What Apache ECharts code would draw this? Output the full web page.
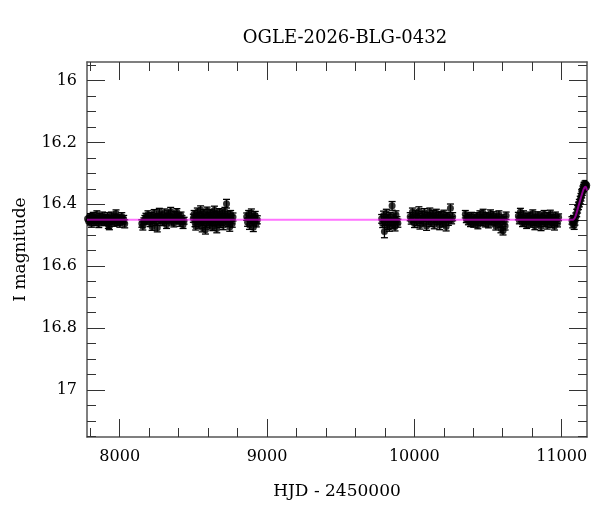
<!DOCTYPE html>
<html>
<head>
<meta charset="utf-8">
<script src="https://cdn.jsdelivr.net/npm/echarts@6/dist/echarts.min.js"></script>
<style>html,body{margin:0;padding:0;background:#fff}#c{width:600px;height:512px}</style>
</head>
<body>
<div id="c"></div>
<script>
// [HJD-2450000, I mag, error]
var season1 = [[7782,16.447,0.011],[7789,16.455,0.012],[7795,16.440,0.010],[7801,16.452,0.011],[7808,16.461,0.013],[7814,16.443,0.010],[7820,16.438,0.012],[7826,16.450,0.011],[7833,16.457,0.012],[7839,16.446,0.010],[7845,16.433,0.012],[7852,16.452,0.011],[7858,16.462,0.013],[7865,16.441,0.011],[7871,16.449,0.010],[7878,16.455,0.012],[7884,16.436,0.011],[7891,16.447,0.012],[7897,16.458,0.011],[7904,16.443,0.010],[7910,16.451,0.012],[7917,16.440,0.013],[7923,16.466,0.012],[7930,16.470,0.012],[7936,16.448,0.011],[7943,16.437,0.012],[7949,16.453,0.011],[7956,16.445,0.010],[7962,16.459,0.012],[7969,16.442,0.011],[7975,16.430,0.012],[7982,16.450,0.011],[7988,16.456,0.012],[7995,16.444,0.010],[8001,16.461,0.013],[8008,16.447,0.011],[8014,16.439,0.012],[8021,16.453,0.011],[8027,16.448,0.012],[8034,16.463,0.013]];
var season2 = [[8150,16.462,0.012],[8157,16.470,0.013],[8164,16.455,0.011],[8171,16.448,0.012],[8178,16.440,0.011],[8185,16.452,0.012],[8192,16.433,0.012],[8199,16.446,0.011],[8206,16.459,0.013],[8213,16.438,0.011],[8220,16.472,0.012],[8227,16.451,0.011],[8234,16.429,0.012],[8241,16.444,0.011],[8248,16.456,0.012],[8255,16.476,0.013],[8262,16.441,0.011],[8269,16.425,0.012],[8276,16.450,0.011],[8283,16.437,0.012],[8290,16.458,0.011],[8297,16.445,0.012],[8304,16.428,0.013],[8311,16.452,0.011],[8318,16.466,0.012],[8325,16.440,0.011],[8332,16.431,0.012],[8339,16.449,0.011],[8346,16.423,0.013],[8353,16.455,0.012],[8360,16.443,0.011],[8367,16.461,0.012],[8374,16.434,0.011],[8381,16.447,0.012],[8388,16.426,0.012],[8395,16.452,0.011],[8402,16.440,0.012],[8409,16.458,0.013],[8416,16.436,0.011],[8423,16.449,0.012],[8430,16.466,0.012],[8437,16.453,0.011]];
var season3 = [[8500,16.445,0.013],[8505,16.432,0.012],[8511,16.458,0.014],[8516,16.470,0.013],[8522,16.440,0.012],[8527,16.425,0.013],[8533,16.452,0.012],[8538,16.463,0.014],[8544,16.437,0.012],[8549,16.418,0.013],[8555,16.448,0.012],[8560,16.475,0.014],[8566,16.456,0.012],[8571,16.430,0.013],[8577,16.443,0.012],[8582,16.482,0.014],[8588,16.461,0.013],[8593,16.421,0.012],[8599,16.450,0.013],[8604,16.439,0.012],[8610,16.466,0.014],[8615,16.428,0.012],[8621,16.455,0.013],[8626,16.444,0.012],[8632,16.472,0.013],[8637,16.433,0.012],[8643,16.419,0.013],[8648,16.458,0.012],[8654,16.447,0.013],[8659,16.478,0.014],[8665,16.436,0.012],[8670,16.452,0.013],[8676,16.426,0.012],[8681,16.462,0.013],[8687,16.441,0.012],[8692,16.455,0.013],[8698,16.430,0.012],[8703,16.468,0.014],[8709,16.446,0.012],[8714,16.423,0.013],[8720,16.452,0.012],[8725,16.398,0.014],[8731,16.437,0.013],[8736,16.460,0.012],[8742,16.444,0.013],[8747,16.473,0.014],[8753,16.432,0.012],[8758,16.450,0.013],[8764,16.462,0.012],[8769,16.441,0.013]];
var season4 = [[8862,16.440,0.012],[8868,16.458,0.013],[8875,16.432,0.012],[8881,16.467,0.014],[8888,16.449,0.012],[8894,16.428,0.013],[8901,16.455,0.012],[8907,16.474,0.014],[8914,16.443,0.012],[8920,16.436,0.013],[8927,16.461,0.012],[8934,16.450,0.013]];
var season5 = [[9778,16.447,0.014],[9785,16.462,0.013],[9791,16.436,0.014],[9797,16.488,0.020],[9804,16.452,0.013],[9810,16.430,0.014],[9817,16.468,0.013],[9823,16.445,0.012],[9830,16.473,0.014],[9836,16.439,0.013],[9843,16.456,0.012],[9849,16.405,0.014],[9856,16.466,0.013],[9862,16.443,0.012],[9869,16.472,0.014],[9875,16.434,0.013],[9882,16.452,0.012],[9888,16.461,0.013]];
var season6 = [[9972,16.440,0.013],[9979,16.452,0.012],[9987,16.425,0.013],[9994,16.446,0.012],[10001,16.462,0.013],[10009,16.431,0.012],[10016,16.455,0.013],[10024,16.441,0.012],[10031,16.422,0.014],[10038,16.467,0.013],[10046,16.449,0.012],[10053,16.436,0.013],[10061,16.458,0.012],[10068,16.427,0.013],[10075,16.444,0.012],[10083,16.470,0.014],[10090,16.438,0.012],[10098,16.451,0.013],[10105,16.424,0.012],[10112,16.459,0.013],[10120,16.442,0.012],[10127,16.433,0.013],[10135,16.465,0.014],[10142,16.447,0.012],[10149,16.429,0.013],[10157,16.454,0.012],[10164,16.440,0.013],[10172,16.468,0.014],[10179,16.435,0.012],[10186,16.450,0.013],[10194,16.461,0.012],[10201,16.432,0.013],[10209,16.445,0.012],[10216,16.472,0.014],[10223,16.438,0.012],[10231,16.455,0.013],[10238,16.443,0.012],[10245,16.413,0.014],[10253,16.451,0.012],[10260,16.440,0.013]];
var season7 = [[10346,16.432,0.012],[10353,16.448,0.011],[10360,16.440,0.012],[10367,16.455,0.011],[10374,16.445,0.012],[10381,16.460,0.012],[10388,16.437,0.011],[10396,16.451,0.012],[10403,16.463,0.011],[10410,16.444,0.012],[10417,16.456,0.011],[10424,16.439,0.012],[10431,16.467,0.012],[10438,16.449,0.011],[10445,16.433,0.012],[10453,16.458,0.011],[10460,16.445,0.012],[10467,16.428,0.012],[10474,16.452,0.011],[10481,16.461,0.012],[10488,16.438,0.011],[10495,16.450,0.012],[10503,16.464,0.012],[10510,16.442,0.011],[10517,16.430,0.012],[10524,16.455,0.011],[10531,16.447,0.012],[10538,16.436,0.012],[10545,16.459,0.011],[10553,16.470,0.013],[10560,16.443,0.012],[10567,16.451,0.011],[10574,16.433,0.012],[10581,16.463,0.012],[10588,16.478,0.014],[10595,16.446,0.012],[10602,16.485,0.014],[10609,16.452,0.012],[10616,16.470,0.013],[10623,16.437,0.012]];
var season8 = [[10706,16.438,0.012],[10713,16.452,0.011],[10720,16.425,0.012],[10727,16.445,0.011],[10734,16.460,0.012],[10741,16.433,0.012],[10748,16.455,0.011],[10755,16.447,0.012],[10762,16.466,0.012],[10769,16.440,0.011],[10776,16.452,0.012],[10783,16.436,0.011],[10790,16.462,0.012],[10797,16.448,0.011],[10804,16.430,0.012],[10811,16.456,0.012],[10818,16.469,0.013],[10825,16.443,0.011],[10832,16.451,0.012],[10839,16.435,0.011],[10846,16.461,0.012],[10853,16.446,0.011],[10860,16.472,0.013],[10867,16.440,0.012],[10874,16.454,0.011],[10881,16.432,0.012],[10888,16.459,0.012],[10895,16.447,0.011],[10902,16.467,0.013],[10909,16.438,0.011],[10916,16.452,0.012],[10923,16.431,0.012],[10930,16.463,0.012],[10937,16.444,0.011],[10944,16.456,0.012],[10951,16.470,0.013],[10958,16.436,0.011],[10965,16.450,0.012],[10972,16.461,0.012],[10979,16.442,0.011]];
var season9 = [[11070,16.452,0.012],[11075,16.463,0.013],[11080,16.448,0.012],[11085,16.468,0.013],[11090,16.455,0.012],[11096,16.440,0.012],[11102,16.428,0.012],[11108,16.416,0.012],[11114,16.405,0.012],[11120,16.396,0.012],[11126,16.386,0.012],[11131,16.377,0.012],[11136,16.368,0.011],[11140,16.360,0.011],[11144,16.352,0.011],[11148,16.346,0.011],[11152,16.340,0.011],[11155,16.348,0.011],[11158,16.336,0.011],[11161,16.342,0.011],[11164,16.334,0.011],[11167,16.345,0.011],[11170,16.338,0.011]];
// model light curve
var modelCurve = [[7778,16.45],[11070,16.45],[11082,16.448],[11091,16.442],[11100,16.43],[11113,16.408],[11125,16.388],[11136,16.37],[11145,16.356],[11152,16.348],[11158,16.344],[11163,16.343],[11167,16.347],[11172,16.355]];

var xMajor = [8000, 9000, 10000, 11000];
var xMinor = [7800, 8200, 8400, 8600, 8800, 9200, 9400, 9600, 9800, 10200, 10400, 10600, 10800];
var yMajor = [16, 16.2, 16.4, 16.6, 16.8, 17];
var yMinor = [15.95, 16.05, 16.1, 16.15, 16.25, 16.3, 16.35, 16.45, 16.5, 16.55, 16.65, 16.7, 16.75, 16.85, 16.9, 16.95, 17.05, 17.1, 17.15];

var titleText = 'OGLE-2026-BLG-0432';
var xName = 'HJD - 2450000';
var yName = 'I magnitude';

var allPts = [].concat(season1, season2, season3, season4, season5, season6, season7, season8, season9);
var FONT = 'DejaVu Serif';
var XMIN = 7778, XMAX = 11172, YMIN = 15.94, YMAX = 17.152;

function plain(v) { return String(Math.round(v * 1000) / 1000); }

function xAx(pos, ticks, len, withLabel, withLine) {
  return {
    type: 'value', position: pos, min: XMIN, max: XMAX,
    axisLine: { show: withLine, onZero: false, lineStyle: { color: '#555', width: 1.5 } },
    axisTick: { show: true, inside: true, length: len, customValues: ticks, lineStyle: { color: '#333', width: 1 } },
    axisLabel: withLabel ? { show: true, customValues: xMajor, formatter: plain, color: '#000', fontFamily: FONT, fontSize: 16, margin: 12 } : { show: false },
    splitLine: { show: false },
    name: withLabel ? xName : '', nameLocation: 'middle', nameGap: 46,
    nameTextStyle: { color: '#000', fontFamily: FONT, fontSize: 17 }
  };
}
function yAx(pos, ticks, len, withLabel, withLine) {
  return {
    type: 'value', position: pos, min: YMIN, max: YMAX, inverse: true,
    axisLine: { show: withLine, onZero: false, lineStyle: { color: '#555', width: 1.5 } },
    axisTick: { show: true, inside: true, length: len, customValues: ticks, lineStyle: { color: '#333', width: 1 } },
    axisLabel: withLabel ? { show: true, customValues: yMajor, formatter: plain, color: '#000', fontFamily: FONT, fontSize: 16, margin: 10 } : { show: false },
    splitLine: { show: false },
    name: withLabel ? yName : '', nameLocation: 'middle', nameGap: 58, nameRotate: 90,
    nameTextStyle: { color: '#000', fontFamily: FONT, fontSize: 17 }
  };
}

var chart = echarts.init(document.getElementById('c'), null, { renderer: 'canvas' });
chart.setOption({
  animation: false,
  backgroundColor: '#fff',
  title: { text: titleText, left: 340, top: 24, textAlign: 'center',
           textStyle: { color: '#000', fontFamily: FONT, fontSize: 18, fontWeight: 'normal' } },
  grid: { left: 87, right: 13, top: 62, bottom: 75, containLabel: false },
  xAxis: [xAx('bottom', xMajor, 18, true, true), xAx('bottom', xMinor, 9, false, false),
          xAx('top', xMajor, 18, false, true), xAx('top', xMinor, 9, false, false)],
  yAxis: [yAx('left', yMajor, 18, true, true), yAx('left', yMinor, 9, false, false),
          yAx('right', yMajor, 18, false, true), yAx('right', yMinor, 9, false, false)],
  series: [
    {
      type: 'custom', xAxisIndex: 0, yAxisIndex: 0, data: allPts, encode: { x: 0, y: 1 },
      clip: true, z: 2,
      renderItem: function (params, api) {
        var x = api.value(0), y = api.value(1), e = api.value(2);
        var hi = api.coord([x, y - e]), lo = api.coord([x, y + e]);
        var hw = 3.5, st = { stroke: '#000', lineWidth: 1.3 };
        return { type: 'group', children: [
          { type: 'line', shape: { x1: hi[0], y1: hi[1], x2: lo[0], y2: lo[1] }, style: st },
          { type: 'line', shape: { x1: hi[0] - hw, y1: hi[1], x2: hi[0] + hw, y2: hi[1] }, style: st },
          { type: 'line', shape: { x1: lo[0] - hw, y1: lo[1], x2: lo[0] + hw, y2: lo[1] }, style: st }
        ] };
      }
    },
    {
      type: 'scatter', xAxisIndex: 0, yAxisIndex: 0, z: 3,
      data: allPts.map(function (p) { return [p[0], p[1]]; }),
      symbol: 'circle', symbolSize: 7, itemStyle: { color: '#000' }
    },
    {
      type: 'line', xAxisIndex: 0, yAxisIndex: 0, z: 4, data: modelCurve,
      showSymbol: false, smooth: 0.3,
      lineStyle: { color: '#ff00ff', width: 2, opacity: 0.55 }
    }
  ]
});
</script>
</body>
</html>
